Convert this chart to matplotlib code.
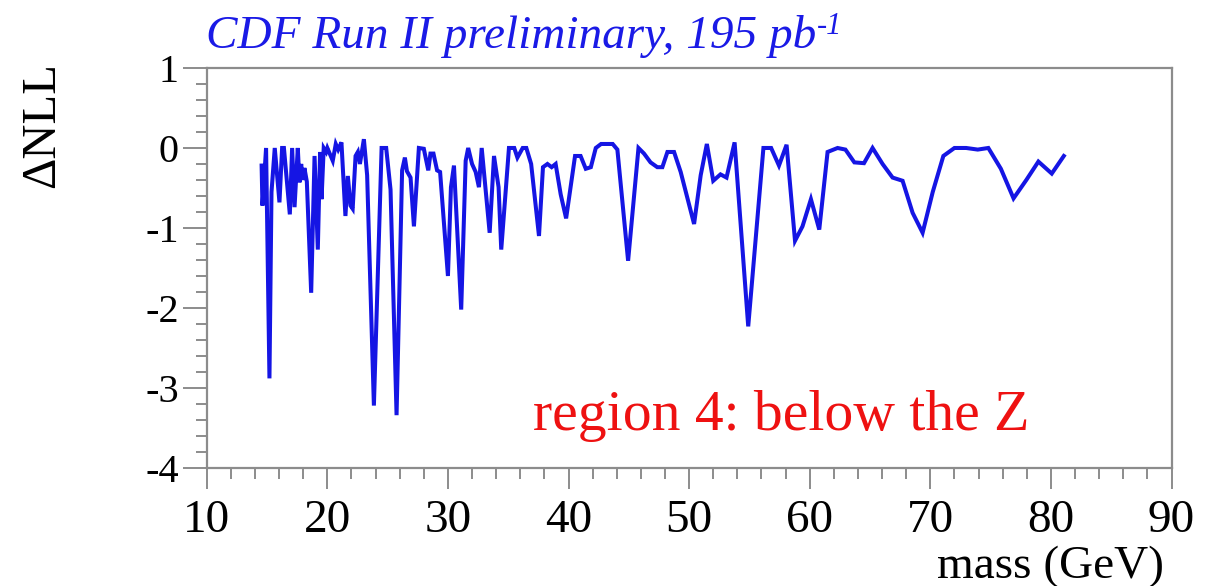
import matplotlib
matplotlib.use('Agg')
import matplotlib.pyplot as plt
from matplotlib.ticker import MultipleLocator

# scan of the likelihood difference vs. mass
mass = [14.55, 14.62, 14.92, 15.2, 15.37, 15.64, 16.03, 16.25, 16.4, 16.89,
        17.08, 17.28, 17.55, 17.69, 17.83, 17.97, 18.1, 18.3, 18.66, 18.94,
        19.21, 19.4, 19.52, 19.7, 19.9, 20.0, 20.45, 20.7, 20.9, 21.17,
        21.5, 21.7, 21.92, 22.1, 22.34, 22.53, 22.7, 23.03, 23.3, 23.86,
        24.5, 24.88, 25.24, 25.74, 26.2, 26.43, 26.6, 26.9, 27.18, 27.59,
        28.0, 28.37, 28.55, 28.8, 29.1, 29.35, 30.0, 30.25, 30.5, 31.1,
        31.47, 31.68, 32.0, 32.3, 32.57, 32.8, 33.46, 33.82, 34.2, 34.42,
        35.06, 35.5, 35.76, 36.2, 36.5, 36.9, 37.55, 37.88, 38.25, 38.6,
        38.93, 39.35, 39.8, 40.54, 41.0, 41.43, 41.85, 42.26, 42.7, 43.66,
        44.05, 44.94, 45.8, 46.26, 46.8, 47.36, 47.78, 48.2, 48.75, 49.3,
        50.41, 50.96, 51.47, 52.0, 52.6, 53.1, 53.77, 54.9, 56.16, 56.8,
        57.45, 58.08, 58.78, 59.4, 60.1, 60.79, 61.48, 62.31, 62.96, 63.7,
        64.5, 65.21, 66.04, 66.87, 67.7, 68.53, 69.36, 70.2, 71.08, 72.0,
        72.97, 73.93, 74.81, 75.85, 76.9, 77.96, 78.96, 80.07, 81.07]
dnll = [-0.22, -0.72, 0.0, -2.88, -0.55, 0.0, -0.68, 0.0, 0.0, -0.83,
        0.0, -0.74, 0.0, -0.43, -0.2, -0.4, -0.25, -0.42, -1.81, -0.1,
        -1.27, -0.05, -0.64, 0.0, -0.05, 0.0, -0.16, 0.05, -0.02, 0.07,
        -0.85, -0.35, -0.72, -0.76, -0.1, -0.05, -0.2, 0.11, -0.34, -3.22,
        0.0, 0.0, -0.52, -3.34, -0.28, -0.12, -0.29, -0.37, -0.98, 0.0,
        -0.01, -0.28, -0.07, -0.07, -0.28, -0.3, -1.6, -0.49, -0.22, -2.02,
        -0.16, 0.0, -0.2, -0.3, -0.49, 0.0, -1.06, -0.1, -0.49, -1.27,
        0.0, 0.0, -0.12, 0.0, 0.0, -0.2, -1.1, -0.24, -0.2, -0.24,
        -0.2, -0.58, -0.88, -0.1, -0.1, -0.26, -0.24, 0.0, 0.05, 0.05,
        -0.02, -1.41, 0.0, -0.07, -0.18, -0.24, -0.24, -0.05, -0.05, -0.3,
        -0.95, -0.34, 0.05, -0.41, -0.33, -0.37, 0.07, -2.23, 0.0, 0.0,
        -0.22, 0.04, -1.16, -0.98, -0.64, -1.02, -0.05, 0.0, -0.02, -0.18,
        -0.19, 0.0, -0.2, -0.37, -0.41, -0.81, -1.06, -0.55, -0.1, 0.0,
        0.0, -0.02, 0.0, -0.26, -0.63, -0.4, -0.17, -0.32, -0.1]

x_ticks = [10, 20, 30, 40, 50, 60, 70, 80, 90]
y_ticks = [1, 0, -1, -2, -3, -4]

plt.rcParams['font.family'] = ['Liberation Serif', 'DejaVu Serif']
plt.rcParams['axes.unicode_minus'] = False

frame = '#8c8c8c'

fig = plt.figure(figsize=(12.09, 5.86), dpi=100)
ax = fig.add_axes([0.171, 0.2014, 0.798, 0.6826])

ax.plot(mass, dnll, color='#1515e4', lw=2.9, solid_joinstyle='miter')

ax.set_xlim(10, 90)
ax.set_ylim(-4, 1)
ax.set_xticks(x_ticks)
ax.set_yticks(y_ticks)
ax.xaxis.set_minor_locator(MultipleLocator(2))
ax.yaxis.set_minor_locator(MultipleLocator(0.2))

for s in ax.spines.values():
    s.set_color(frame)
    s.set_linewidth(1.6)

ax.tick_params(axis='x', which='major', direction='out', length=15, width=1.4,
               color=frame, labelsize=34, pad=8)
ax.tick_params(axis='x', which='minor', direction='out', length=8, width=1.4, color=frame)
ax.tick_params(axis='y', which='major', direction='out', length=17, width=1.4,
               color=frame, labelsize=29, pad=3)
ax.tick_params(axis='y', which='minor', direction='out', length=8, width=1.4, color=frame)

fig.text(0.035, 0.787, 'ΔNLL', fontsize=35, rotation=90, ha='center', va='center')
fig.text(0.963, -0.004, 'mass (GeV)', fontsize=34, ha='right', va='bottom')

title = fig.text(0.17, 0.918, 'CDF Run II preliminary, 195 pb', fontsize=34,
                 style='italic', color='#1a1ae6', ha='left', va='baseline')
ax.annotate('-1', xy=(1, 1), xycoords=title, xytext=(1, -8), textcoords='offset points',
            fontsize=22, style='italic', color='#1a1ae6', ha='left', va='center')

ax.text(0.338, 0.095, 'region 4: below the Z', transform=ax.transAxes,
        fontsize=41.5, color='#ee1111', ha='left', va='baseline')

fig.savefig('out.png', dpi=100)
